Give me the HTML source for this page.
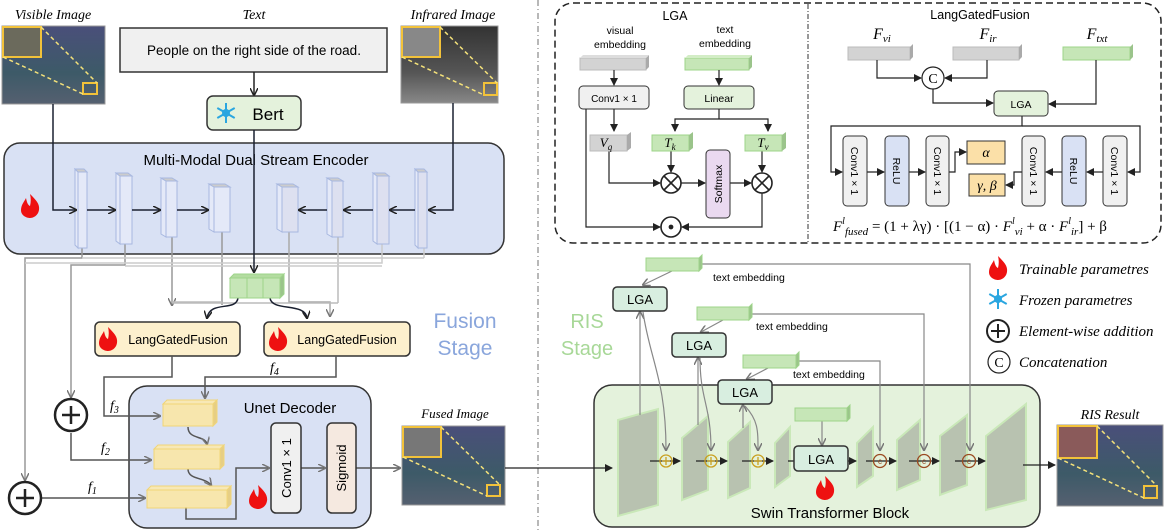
<!DOCTYPE html>
<html><head><meta charset="utf-8"><style>
body{margin:0;background:#fff}
svg{display:block}
.s{font-family:"Liberation Sans",sans-serif}
.i{font-family:"Liberation Serif",serif;font-style:italic}
</style></head><body>
<svg width="1164" height="530" viewBox="0 0 1164 530" xmlns="http://www.w3.org/2000/svg">
<defs>
<marker id="a" markerWidth="8" markerHeight="8" refX="7" refY="4" orient="auto" markerUnits="userSpaceOnUse"><path d="M0,0 L8,4 L0,8" fill="none" stroke="#222" stroke-width="1.5"/></marker>
<marker id="g" markerWidth="8" markerHeight="8" refX="7" refY="4" orient="auto" markerUnits="userSpaceOnUse"><path d="M0,0 L8,4 L0,8" fill="none" stroke="#777" stroke-width="1.5"/></marker>
<marker id="f" markerWidth="8" markerHeight="8" refX="7" refY="4" orient="auto" markerUnits="userSpaceOnUse"><path d="M0,0 L8,4 L0,8 z" fill="#222"/></marker>
<linearGradient id="vis" x1="0" y1="0" x2="0" y2="1"><stop offset="0" stop-color="#4a4f7a"/><stop offset=".6" stop-color="#3d5a68"/><stop offset="1" stop-color="#556070"/></linearGradient>
<linearGradient id="ir" x1="0" y1="0" x2="0" y2="1"><stop offset="0" stop-color="#333"/><stop offset=".6" stop-color="#555"/><stop offset="1" stop-color="#888"/></linearGradient>
<g id="flame"><path d="M0,-12 C6,-6 10,-2 9,4 C8,10 3,12 0,12 C-3,12 -9,10 -9,4 C-9,-1 -6,-4 -4,-8 C-3,-3 -2,-1 0,0 C1,-4 1,-8 0,-12 z" fill="#ee1111"/></g>
<g id="snow" stroke="#2aa6e0" stroke-width="2" fill="none"><path d="M0,-10V10M-8.7,-5L8.7,5M-8.7,5L8.7,-5"/><circle r="3"/></g>
</defs>

<!-- LEFT -->
<text x="53" y="19" class="i" font-size="14" text-anchor="middle">Visible Image</text>
<rect x="2" y="26" width="103" height="78" fill="url(#vis)" stroke="#999"/>
<rect x="3" y="27" width="38" height="30" fill="#6b6a5c" stroke="#f2c23a" stroke-width="2"/>
<rect x="83" y="83" width="14" height="11" fill="none" stroke="#f2c23a" stroke-width="2"/>
<path d="M41,27L97,83M3,57L83,94" stroke="#f5e27a" stroke-dasharray="4,3" stroke-width="1.5"/>
<text x="254" y="19" class="i" font-size="14" text-anchor="middle">Text</text>
<rect x="120" y="28" width="267" height="44" fill="#f0f0f0" stroke="#333" stroke-width="1.5"/>
<text x="254" y="55" class="s" font-size="13.5" text-anchor="middle">People on the right side of the road.</text>
<line x1="254" y1="72" x2="254" y2="95" stroke="#222" stroke-width="1.5" marker-end="url(#a)"/>
<rect x="207" y="96" width="94" height="34" rx="6" fill="#e4f2dc" stroke="#333" stroke-width="1.5"/>
<use href="#snow" x="226" y="113"/>
<text x="268" y="120" class="s" font-size="17" text-anchor="middle">Bert</text>
<text x="453" y="19" class="i" font-size="14" text-anchor="middle">Infrared Image</text>
<rect x="401" y="26" width="97" height="77" fill="url(#ir)" stroke="#999"/>
<rect x="402" y="27" width="38" height="30" fill="#888" stroke="#f2c23a" stroke-width="2"/>
<rect x="484" y="83" width="13" height="12" fill="none" stroke="#f2c23a" stroke-width="2"/>
<path d="M440,27L497,83M402,57L484,95" stroke="#f5e27a" stroke-dasharray="4,3" stroke-width="1.5"/>

<rect x="4" y="143" width="500" height="111" rx="16" fill="#d9e1f4" stroke="#333" stroke-width="1.5"/>
<text x="256" y="165" class="s" font-size="15" text-anchor="middle">Multi-Modal Dual Stream Encoder</text>
<use href="#flame" x="30" y="206"/>
<g fill="none" stroke="#999" stroke-width="1.5">
<path d="M82,248V258H25V480" marker-end="url(#g)"/>
<path d="M125,244V265H71V397" marker-end="url(#g)"/>
<path d="M172,237V305" marker-end="url(#g)"/>
<path d="M222,232V305"/>
<path d="M289,232V302H330V316" marker-end="url(#g)" stroke="#aaa"/>
<path d="M338,237V303" stroke="#bbb"/>
<path d="M382,244V263H25" stroke="#ccc"/>
<path d="M424,248V258" stroke="#ccc"/>
<path d="M424,258H82M382,266H125" stroke="#ccc"/>
<path d="M222,302H172M338,303H172" stroke="#bbb"/>
</g>
<g stroke="#a8b8e0" fill="#e4e9f8">
<rect x="78" y="172" width="9" height="76"/><polygon points="75,169 78,172 78,248 75,245"/><polygon points="75,169 84,169 87,172 78,172" fill="#ccc"/>
<rect x="120" y="176" width="12" height="68"/><polygon points="116,173 120,176 120,244 116,241"/><polygon points="116,173 128,173 132,176 120,176" fill="#ccc"/>
<rect x="166" y="181" width="11" height="56"/><polygon points="161,178 166,181 166,237 161,234"/><polygon points="161,178 172,178 177,181 166,181" fill="#ccc"/>
<rect x="214" y="187" width="16" height="45"/><polygon points="209,184 214,187 214,232 209,229"/><polygon points="209,184 225,184 230,187 214,187" fill="#ccc"/>
<rect x="282" y="187" width="16" height="45" fill="#dde0f0"/><polygon points="277,184 282,187 282,232 277,229"/><polygon points="277,184 293,184 298,187 282,187" fill="#ccc"/>
<rect x="332" y="181" width="11" height="56" fill="#dde0f0"/><polygon points="327,178 332,181 332,237 327,234"/><polygon points="327,178 338,178 343,181 332,181" fill="#ccc"/>
<rect x="377" y="176" width="12" height="68" fill="#dde0f0"/><polygon points="373,173 377,176 377,244 373,241"/><polygon points="373,173 385,173 389,176 377,176" fill="#ccc"/>
<rect x="418" y="172" width="9" height="76" fill="#dde0f0"/><polygon points="415,169 418,172 418,248 415,245"/><polygon points="415,169 424,169 427,172 418,172" fill="#ccc"/>
</g>
<g fill="none" stroke="#1a2030" stroke-width="1.5">
<path d="M53,104V210H76" marker-end="url(#a)"/>
<path d="M87,210H115" marker-end="url(#a)"/>
<path d="M132,210H160" marker-end="url(#a)"/>
<path d="M177,210H208" marker-end="url(#a)"/>
<path d="M453,103V210H429" marker-end="url(#a)"/>
<path d="M415,210H390" marker-end="url(#a)"/>
<path d="M373,210H344" marker-end="url(#a)"/>
<path d="M327,210H299" marker-end="url(#a)"/>
<path d="M254,130V272" marker-end="url(#a)"/>
<path d="M238,298C236,312 210,300 207,318" marker-end="url(#a)"/>
<path d="M270,298C272,312 305,302 307,318" marker-end="url(#a)"/>
</g>
<g stroke="#9ed48a" fill="#c6e6b7"><rect x="230" y="278" width="50" height="20"/><polygon points="230,278 234,274 284,274 280,278" fill="#b3dca0"/><polygon points="280,278 284,274 284,294 280,298" fill="#9bc48b"/><path d="M247,278V298M263,278V298" fill="none"/></g>

<rect x="95" y="322" width="145" height="34" rx="5" fill="#fdf0cd" stroke="#333" stroke-width="1.5"/>
<use href="#flame" x="108" y="339"/>
<text x="178" y="344" class="s" font-size="12.5" text-anchor="middle">LangGatedFusion</text>
<rect x="264" y="322" width="146" height="34" rx="5" fill="#fdf0cd" stroke="#333" stroke-width="1.5"/>
<use href="#flame" x="278" y="339"/>
<text x="347" y="344" class="s" font-size="12.5" text-anchor="middle">LangGatedFusion</text>
<text x="465" y="328" class="s" font-size="21" fill="#8aa6dc" text-anchor="middle">Fusion</text>
<text x="465" y="355" class="s" font-size="21" fill="#8aa6dc" text-anchor="middle">Stage</text>

<rect x="129" y="386" width="242" height="142" rx="18" fill="#d9e1f4" stroke="#333" stroke-width="1.5"/>
<text x="290" y="413" class="s" font-size="15" text-anchor="middle">Unet Decoder</text>
<g fill="none" stroke="#555" stroke-width="1.5">
<path d="M172,356V377H104V416H160" marker-end="url(#g)"/>
<path d="M336,356V377H205V398" marker-end="url(#g)"/>
<path d="M71,433V460H151" marker-end="url(#g)"/>
<path d="M42,498H145" marker-end="url(#g)"/>
<path d="M188,427C188,440 205,435 207,444" marker-end="url(#g)"/>
<path d="M188,469C188,480 205,477 211,485" marker-end="url(#g)"/>
<path d="M186,507V519H236V468H269" marker-end="url(#g)"/>
<path d="M301,468H325" marker-end="url(#g)"/>
<path d="M356,468H400" marker-end="url(#g)"/>
</g>
<circle cx="71" cy="415" r="16" fill="#fff" stroke="#222" stroke-width="2.5"/><path d="M62,415H80M71,406V424" stroke="#222" stroke-width="2.5"/>
<circle cx="25" cy="498" r="16" fill="#fff" stroke="#222" stroke-width="2.5"/><path d="M16,498H34M25,489V507" stroke="#222" stroke-width="2.5"/>
<text x="270" y="372" class="i" font-size="14">f<tspan font-size="10" dy="3">4</tspan></text>
<text x="110" y="410" class="i" font-size="14">f<tspan font-size="10" dy="3">3</tspan></text>
<text x="101" y="452" class="i" font-size="14">f<tspan font-size="10" dy="3">2</tspan></text>
<text x="88" y="491" class="i" font-size="14">f<tspan font-size="10" dy="3">1</tspan></text>
<g stroke="#f4d46a" fill="#fbe7a6" opacity=".9">
<rect x="163" y="404" width="50" height="22"/><polygon points="163,404 167,400 217,400 213,404" fill="#fbe9b0"/><polygon points="213,404 217,400 217,422 213,426" fill="#e8cc7a"/>
<rect x="154" y="449" width="66" height="20"/><polygon points="154,449 158,445 224,445 220,449" fill="#fbe9b0"/><polygon points="220,449 224,445 224,465 220,469" fill="#e8cc7a"/>
<rect x="147" y="490" width="80" height="18"/><polygon points="147,490 151,486 231,486 227,490" fill="#fbe9b0"/><polygon points="227,490 231,486 231,504 227,508" fill="#e8cc7a"/>
</g>
<rect x="271" y="423" width="30" height="90" rx="5" fill="#f0f0f0" stroke="#333" stroke-width="1.5"/>
<text transform="translate(291,468) rotate(-90)" class="s" font-size="13" text-anchor="middle">Conv1 × 1</text>
<rect x="327" y="423" width="29" height="90" rx="5" fill="#f5e9e0" stroke="#333" stroke-width="1.5"/>
<text transform="translate(346,468) rotate(-90)" class="s" font-size="13" text-anchor="middle">Sigmoid</text>
<use href="#flame" x="258" y="497"/>
<text x="455" y="418" class="i" font-size="13" text-anchor="middle">Fused Image</text>
<rect x="402" y="426" width="103" height="79" fill="url(#vis)" stroke="#999"/>
<rect x="403" y="427" width="38" height="30" fill="#777" stroke="#f2c23a" stroke-width="2"/>
<rect x="487" y="485" width="13" height="11" fill="none" stroke="#f2c23a" stroke-width="2"/>
<path d="M441,427L500,485M403,457L487,496" stroke="#f5e27a" stroke-dasharray="4,3" stroke-width="1.5"/>

<line x1="538" y1="0" x2="538" y2="530" stroke="#888" stroke-width="1.2" stroke-dasharray="6,3,1,3"/>

<!-- TOP RIGHT -->
<rect x="555" y="3" width="606" height="240" rx="18" fill="none" stroke="#222" stroke-width="1.5" stroke-dasharray="7,4"/>
<line x1="808" y1="4" x2="808" y2="242" stroke="#333" stroke-dasharray="5,2,1,2"/>
<text x="675" y="20" class="s" font-size="12.5" text-anchor="middle">LGA</text>
<text x="620" y="34" class="s" font-size="10.5" text-anchor="middle">visual</text>
<text x="620" y="48" class="s" font-size="10.5" text-anchor="middle">embedding</text>
<text x="725" y="33" class="s" font-size="10.5" text-anchor="middle">text</text>
<text x="725" y="47" class="s" font-size="10.5" text-anchor="middle">embedding</text>
<rect x="580" y="58" width="66" height="12" fill="#d3d3d3" stroke="#bbb"/><polygon points="646,58 649,55 649,67 646,70" fill="#aaa"/><polygon points="580,58 583,55 649,55 646,58" fill="#ddd"/>
<rect x="685" y="58" width="64" height="12" fill="#c6e6b7" stroke="#9ed48a"/><polygon points="749,58 752,55 752,67 749,70" fill="#9bc48b"/><polygon points="685,58 688,55 752,55 749,58" fill="#d3edc6"/>
<rect x="579" y="86" width="70" height="23" rx="4" fill="#f0f0f0" stroke="#333"/>
<text x="614" y="102" class="s" font-size="10" text-anchor="middle">Conv1 × 1</text>
<rect x="684" y="86" width="70" height="23" rx="4" fill="#e4f2dc" stroke="#333"/>
<text x="719" y="102" class="s" font-size="10.5" text-anchor="middle">Linear</text>
<g fill="none" stroke="#222" stroke-width="1.2">
<path d="M614,70V85" marker-end="url(#f)"/><path d="M719,70V85" marker-end="url(#f)"/>
<path d="M614,109V131" marker-end="url(#f)"/>
<path d="M719,109V119H675V131M719,119H768V131"/>
<path d="M675,124V131" marker-end="url(#f)"/><path d="M768,124V131" marker-end="url(#f)"/>
<path d="M609,151V183H660" marker-end="url(#f)"/>
<path d="M671,151V172" marker-end="url(#f)"/>
<path d="M762,151V172" marker-end="url(#f)"/>
<path d="M681,183H705" marker-end="url(#f)"/>
<path d="M730,183H751" marker-end="url(#f)"/>
<path d="M586,109V227H660" marker-end="url(#f)"/>
<path d="M762,193V227H682" marker-end="url(#f)"/>
</g>
<rect x="590" y="135" width="37" height="16" fill="#d3d3d3" stroke="#bbb"/><polygon points="627,135 631,132 631,148 627,151" fill="#aaa"/>
<text x="606" y="147" class="i" font-size="13" text-anchor="middle">V<tspan font-size="9" dy="3">q</tspan></text>
<rect x="652" y="135" width="37" height="16" fill="#c6e6b7" stroke="#9ed48a"/><polygon points="689,135 693,132 693,148 689,151" fill="#9bc48b"/>
<text x="670" y="147" class="i" font-size="13" text-anchor="middle">T<tspan font-size="9" dy="3">k</tspan></text>
<rect x="745" y="135" width="37" height="16" fill="#c6e6b7" stroke="#9ed48a"/><polygon points="782,135 786,132 786,148 782,151" fill="#9bc48b"/>
<text x="763" y="147" class="i" font-size="13" text-anchor="middle">T<tspan font-size="9" dy="3">v</tspan></text>
<g stroke="#222" stroke-width="1.6" fill="#fff">
<circle cx="671" cy="183" r="10"/><path d="M664,176L678,190M678,176L664,190"/>
<circle cx="762" cy="183" r="10"/><path d="M755,176L769,190M769,176L755,190"/>
<circle cx="671" cy="227" r="10"/><circle cx="671" cy="227" r="1.6" fill="#222"/>
</g>
<rect x="706" y="150" width="24" height="68" rx="4" fill="#ead9f0" stroke="#333"/>
<text transform="translate(722,184) rotate(-90)" class="s" font-size="10.5" text-anchor="middle">Softmax</text>

<text x="980" y="19" class="s" font-size="12.5" text-anchor="middle">LangGatedFusion</text>
<text x="882" y="39" class="i" font-size="16" text-anchor="middle">F<tspan font-size="11" dy="3">vi</tspan></text>
<text x="988" y="39" class="i" font-size="16" text-anchor="middle">F<tspan font-size="11" dy="3">ir</tspan></text>
<text x="1097" y="39" class="i" font-size="16" text-anchor="middle">F<tspan font-size="11" dy="3">txt</tspan></text>
<rect x="848" y="47" width="62" height="13" fill="#d3d3d3" stroke="#bbb"/><polygon points="910,47 913,44 913,57 910,60" fill="#aaa"/>
<rect x="953" y="47" width="66" height="13" fill="#d3d3d3" stroke="#bbb"/><polygon points="1019,47 1022,44 1022,57 1019,60" fill="#aaa"/>
<rect x="1063" y="47" width="67" height="13" fill="#c6e6b7" stroke="#9ed48a"/><polygon points="1130,47 1133,44 1133,57 1130,60" fill="#9bc48b"/>
<g fill="none" stroke="#222" stroke-width="1.2">
<path d="M877,60V78H921" marker-end="url(#f)"/>
<path d="M987,60V78H945" marker-end="url(#f)"/>
<path d="M933,89V103H993" marker-end="url(#f)"/>
<path d="M1096,60V104H1049" marker-end="url(#f)"/>
<path d="M1022,116V126H831V172H842" marker-end="url(#f)"/>
<path d="M1022,126H1140V172H1128" marker-end="url(#f)"/>
<path d="M867,172H884" marker-end="url(#f)"/><path d="M909,172H925" marker-end="url(#f)"/>
<path d="M949,172H955V152H966" marker-end="url(#f)"/>
<path d="M1103,172H1087" marker-end="url(#f)"/><path d="M1062,172H1046" marker-end="url(#f)"/>
<path d="M1022,172H1014V185H1006" marker-end="url(#f)"/>
</g>
<circle cx="933" cy="78" r="11" fill="#fff" stroke="#222" stroke-width="1.2"/>
<text x="933" y="83" font-family="Liberation Serif" font-size="14" text-anchor="middle">C</text>
<rect x="994" y="91" width="54" height="25" rx="4" fill="#e4f2dc" stroke="#333"/>
<text x="1021" y="108" class="s" font-size="10.5" text-anchor="middle">LGA</text>
<g stroke="#333" stroke-width="1">
<rect x="843" y="136" width="24" height="70" rx="4" fill="#f0f0f0"/>
<rect x="885" y="136" width="24" height="70" rx="4" fill="#d9e1f4"/>
<rect x="926" y="136" width="23" height="70" rx="4" fill="#f0f0f0"/>
<rect x="1022" y="136" width="23" height="70" rx="4" fill="#f0f0f0"/>
<rect x="1062" y="136" width="24" height="70" rx="4" fill="#d9e1f4"/>
<rect x="1103" y="136" width="24" height="70" rx="4" fill="#f0f0f0"/>
<rect x="967" y="141" width="38" height="23" fill="#fbe0a8"/>
<rect x="969" y="174" width="36" height="22" fill="#fbe0a8"/>
</g>
<g class="s" font-size="10.5" text-anchor="middle">
<text transform="translate(851,171) rotate(90)">Conv1 × 1</text>
<text transform="translate(893,171) rotate(90)">ReLU</text>
<text transform="translate(934,171) rotate(90)">Conv1 × 1</text>
<text transform="translate(1030,171) rotate(90)">Conv1 × 1</text>
<text transform="translate(1070,171) rotate(90)">ReLU</text>
<text transform="translate(1111,171) rotate(90)">Conv1 × 1</text>
</g>
<text x="986" y="157" class="i" font-size="14" text-anchor="middle">α</text>
<text x="987" y="190" class="i" font-size="14" text-anchor="middle">γ, β</text>
<text x="833" y="231" class="i" font-size="15">F<tspan font-size="10" dy="-7">l</tspan><tspan font-size="11" dy="11">fused</tspan><tspan dy="-4" font-style="normal"> = (1 + λγ) · [(1 − α) · </tspan>F<tspan font-size="10" dy="-7">l</tspan><tspan font-size="11" dy="11">vi</tspan><tspan dy="-4" font-style="normal"> + α · </tspan>F<tspan font-size="10" dy="-7">l</tspan><tspan font-size="11" dy="11">ir</tspan><tspan dy="-4" font-style="normal">] + β</tspan></text>

<!-- BOTTOM RIGHT -->
<text x="587" y="328" class="s" font-size="20" fill="#a8d898" text-anchor="middle">RIS</text>
<text x="587" y="355" class="s" font-size="20" fill="#a8d898" text-anchor="middle">Stage</text>
<rect x="594" y="385" width="446" height="142" rx="18" fill="#e4f2dc" stroke="#333" stroke-width="1.5"/>
<g fill="#b8c2b0" stroke="#c9e8b8" stroke-width="2">
<polygon points="618,420 658,409 658,505 618,516"/>
<polygon points="682,438 708,416 708,490 682,500"/>
<polygon points="728,442 750,422 750,488 728,498"/>
<polygon points="775,443 790,427 790,476 775,487"/>
<polygon points="857,443 873,427 873,476 857,487"/>
<polygon points="897,440 920,420 920,480 897,490"/>
<polygon points="940,436 967,415 967,485 940,495"/>
<polygon points="986,436 1026,404 1026,500 986,510"/>
</g>
<g fill="none" stroke="#888" stroke-width="1.2">
<path d="M702,264H970V450" marker-end="url(#g)"/>
<path d="M752,314H924V450" marker-end="url(#g)"/>
<path d="M799,361H880V450" marker-end="url(#g)"/>
<path d="M672,271L643,285" marker-end="url(#g)"/>
<path d="M723,320L701,332" marker-end="url(#g)"/>
<path d="M770,367L747,379" marker-end="url(#g)"/>
<path d="M640,415V312" marker-end="url(#g)"/>
<path d="M698,425V358" marker-end="url(#g)"/>
<path d="M743,428V405" marker-end="url(#g)"/>
<path d="M643,312C650,360 666,380 666,450" marker-end="url(#g)"/>
<path d="M700,358C700,400 711,405 711,450" marker-end="url(#g)"/>
<path d="M745,406C758,420 758,430 758,450" marker-end="url(#g)"/>
<path d="M822,421V445" marker-end="url(#g)"/>
</g>
<g fill="none" stroke="#222" stroke-width="1.3">
<path d="M505,468H612" marker-end="url(#f)"/>
<path d="M650,461H680" marker-end="url(#f)"/>
<path d="M696,461H727" marker-end="url(#f)"/>
<path d="M742,461H773" marker-end="url(#f)"/>
<path d="M788,461H794"/>
<path d="M848,461H856" marker-end="url(#f)"/>
<path d="M866,461H896" marker-end="url(#f)"/>
<path d="M909,461H939" marker-end="url(#f)"/>
<path d="M955,461H985" marker-end="url(#f)"/>
<path d="M1023,465H1055" marker-end="url(#f)"/>
</g>
<g fill="none" stroke="#c9a020" stroke-width="1.3">
<circle cx="666" cy="461" r="6"/><path d="M662,461H670M666,457V465"/>
<circle cx="711" cy="461" r="6"/><path d="M707,461H715M711,457V465"/>
<circle cx="758" cy="461" r="6"/><path d="M754,461H762M758,457V465"/>
</g>
<g fill="none" stroke="#9a4a20" stroke-width="1.3">
<circle cx="880" cy="461" r="6.5"/><circle cx="924" cy="461" r="6.5"/><circle cx="969" cy="461" r="6.5"/>
</g>
<g class="s" font-size="8" fill="#9a4a20" text-anchor="middle"><text x="880" y="464">c</text><text x="924" y="464">c</text><text x="969" y="464">c</text></g>
<g stroke="#9ed48a" fill="#c6e6b7">
<rect x="646" y="258" width="53" height="13"/><polygon points="699,258 702,255 702,268 699,271" fill="#9bc48b"/>
<rect x="697" y="307" width="52" height="13"/><polygon points="749,307 752,304 752,317 749,320" fill="#9bc48b"/>
<rect x="743" y="355" width="53" height="13"/><polygon points="796,355 799,352 799,365 796,368" fill="#9bc48b"/>
<rect x="795" y="408" width="52" height="13"/><polygon points="847,408 850,405 850,418 847,421" fill="#9bc48b"/>
</g>
<g stroke="#333" stroke-width="1.5" fill="#d8eee0">
<rect x="613" y="287" width="54" height="24" rx="4"/>
<rect x="672" y="333" width="54" height="24" rx="4"/>
<rect x="718" y="380" width="54" height="24" rx="4"/>
<rect x="794" y="446" width="54" height="25" rx="4"/>
</g>
<g class="s" font-size="13" text-anchor="middle">
<text x="640" y="304">LGA</text><text x="699" y="350">LGA</text><text x="745" y="397">LGA</text><text x="821" y="464">LGA</text>
</g>
<g class="s" font-size="10.5">
<text x="713" y="281">text embedding</text><text x="756" y="330">text embedding</text><text x="793" y="378">text embedding</text>
</g>
<use href="#flame" x="825" y="488"/>
<text x="830" y="518" class="s" font-size="15" text-anchor="middle">Swin Transformer Block</text>

<use href="#flame" x="998" y="268"/>
<text x="1019" y="274" class="i" font-size="15">Trainable parametres</text>
<use href="#snow" x="998" y="299"/>
<text x="1019" y="305" class="i" font-size="15">Frozen parametres</text>
<circle cx="998" cy="331" r="11" fill="#fff" stroke="#222" stroke-width="2"/><path d="M991,331H1005M998,324V338" stroke="#222" stroke-width="2"/>
<text x="1019" y="336" class="i" font-size="15">Element-wise addition</text>
<circle cx="999" cy="362" r="11" fill="#fff" stroke="#222" stroke-width="1.2"/>
<text x="999" y="367" font-family="Liberation Serif" font-size="14" text-anchor="middle">C</text>
<text x="1019" y="367" class="i" font-size="15">Concatenation</text>
<text x="1110" y="419" class="i" font-size="14" text-anchor="middle">RIS Result</text>
<rect x="1057" y="425" width="106" height="81" fill="url(#vis)" stroke="#999"/>
<rect x="1058" y="426" width="39" height="32" fill="#8a5a5a" stroke="#f2c23a" stroke-width="2"/>
<rect x="1144" y="486" width="13" height="12" fill="none" stroke="#f2c23a" stroke-width="2"/>
<path d="M1097,426L1157,486M1058,458L1144,498" stroke="#f5e27a" stroke-dasharray="4,3" stroke-width="1.5"/>
</svg>
</body></html>
